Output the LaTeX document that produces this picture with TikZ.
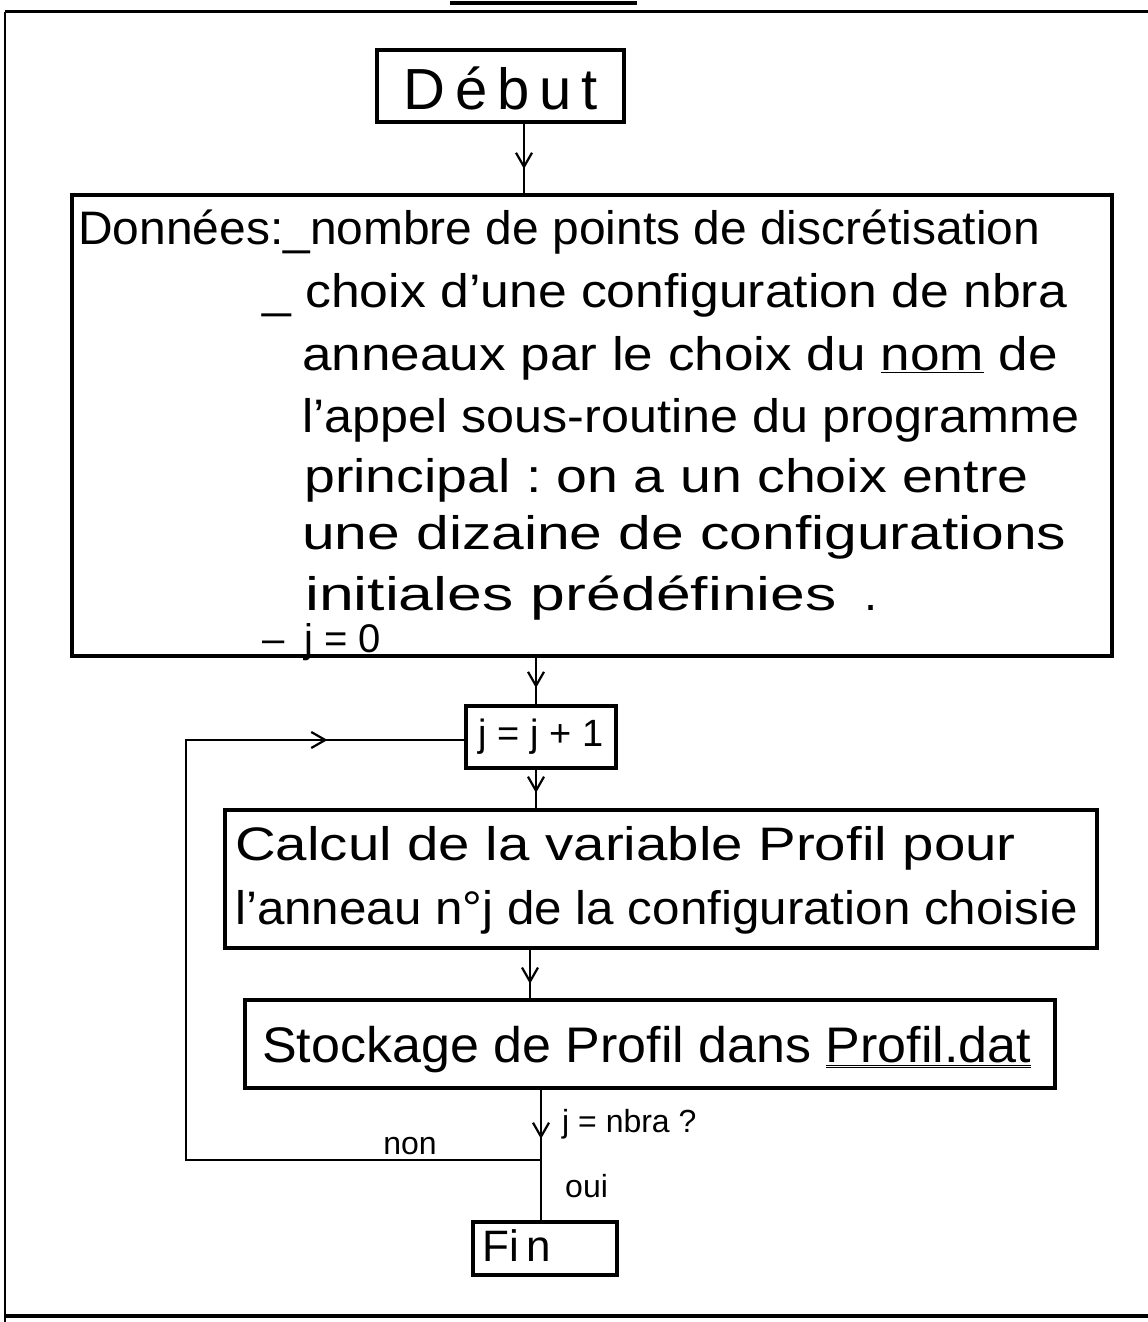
\documentclass[tikz,border=0pt]{standalone}
\usepackage{fontspec}
\setmainfont{Liberation Sans}
\usetikzlibrary{arrows.meta,decorations.markings}
\frenchspacing
\tikzset{
  box/.style={draw, line width=3.2pt, rectangle, inner sep=0pt},
  conn/.style={line width=2.2pt},
  midarrow/.style={postaction={decorate}, decoration={markings,
     mark=at position #1 with {\arrow{Straight Barb[length=14pt,width=16pt,line width=2.2pt]}}}},
  txt/.style={anchor=west, inner sep=0pt, font=\fontsize{47}{49}\selectfont},
  small/.style={inner sep=0pt, font=\fontsize{32}{34}\selectfont},
}
\newcommand{\hwide}[2]{\scalebox{#1}[1]{#2}}
\begin{document}
\begin{tikzpicture}[x=1pt,y=-1pt]
\useasboundingbox (0,0) rectangle (1148,1322);
% outer frame and title rule
\coordinate (t1) at (450,3); \coordinate (t2) at (637,3);
\draw[line width=3.5pt] (t1) -- (t2);
\coordinate (f1) at (5,12); \coordinate (f2) at (1148,12);
\coordinate (f3) at (5,1322); \coordinate (f4) at (5,1316); \coordinate (f5) at (1148,1316);
\draw[line width=3pt] (f1) -- (f2);
\draw[line width=1.4pt] (f1) -- (f3);
\draw[line width=3.5pt] (f4) -- (f5);

% boxes
\node[box, minimum width=247pt, minimum height=72pt] (debut) at (500.5,86) {};
\node[inner sep=0pt, font=\fontsize{58}{60}\selectfont] (debutt) at (500.5,88) {D\,é\,b\,u\,t};

\node[box, minimum width=1040pt, minimum height=461pt] (donnees) at (592,425.5) {};
\node[txt] (l1) at (78,232) {\hwide{1.02}{Données:\_nombre de points de discrétisation}};
\node[txt] (l2) at (262,295) {\hwide{1.1}{\_ choix d'une configuration de nbra}};
\node[txt] (l3) at (302,358) {\hwide{1.13}{anneaux par le choix du \underline{nom} de}};
\node[txt] (l4) at (302,420) {\hwide{1.07}{l'appel sous-routine du programme}};
\node[txt] (l5) at (304,480) {\hwide{1.18}{principal : on a un choix entre}};
\node[txt] (l6) at (302,537) {\hwide{1.25}{une dizaine de configurations}};
\node[txt] (l7) at (305,598) {\hwide{1.33}{initiales prédéfinies}\hspace{28pt}.};
\node[txt, font=\fontsize{40}{42}\selectfont] (l8) at (262,642) {–\enspace j = 0};

\node[box, minimum width=150pt, minimum height=62pt] (jinc) at (541,737) {};
\node[inner sep=0pt, font=\fontsize{38}{40}\selectfont] (jinct) at (541,737) {j = j + 1};

\node[box, minimum width=872pt, minimum height=138pt] (calcul) at (661,879) {};
\node[txt] (c1) at (235,848) {\hwide{1.2}{Calcul de la variable Profil pour}};
\node[txt] (c2) at (235,912) {\hwide{1.05}{l'anneau n°j de la configuration choisie}};

\node[box, minimum width=810pt, minimum height=88pt] (stock) at (650,1044) {};
\node[txt, font=\fontsize{50}{52}\selectfont] (s1) at (262,1050) {\hwide{1.04}{Stockage de Profil dans \underline{\underline{Profil.dat}}}};

\node[box, minimum width=144pt, minimum height=53pt] (fin) at (545,1248.5) {};
\node[inner sep=0pt, font=\fontsize{44}{46}\selectfont] (fint) at (517,1246) {Fi\,n};

% connectors
\coordinate (a1) at (524,0);
\draw[conn, midarrow=0.65] (debut.south -| a1) -- (donnees.north -| a1);
\coordinate (a2) at (536,0);
\draw[conn, midarrow=0.65] (donnees.south -| a2) -- (jinc.north -| a2);
\draw[conn, midarrow=0.6] (jinc.south -| a2) -- (calcul.north -| a2);
\coordinate (a3) at (530,0);
\draw[conn, midarrow=0.7] (calcul.south -| a3) -- (stock.north -| a3);
\coordinate (join) at (541,1160);
\draw[conn, midarrow=0.7] (stock.south -| join) -- (join);
\draw[conn] (join) -- (fin.north -| join);
\coordinate (lb) at (186,1160);
\coordinate (lt) at (186,740);
\draw[conn, midarrow=0.87] (join) -- (lb) -- (lt) -- (jinc.west |- lt);

% labels
\node[small, anchor=west] (q) at (562,1124) {j = nbra ?};
\node[small] (non) at (410,1146) {non};
\node[small, anchor=west] (oui) at (565,1186) {oui};
\end{tikzpicture}
\end{document}
